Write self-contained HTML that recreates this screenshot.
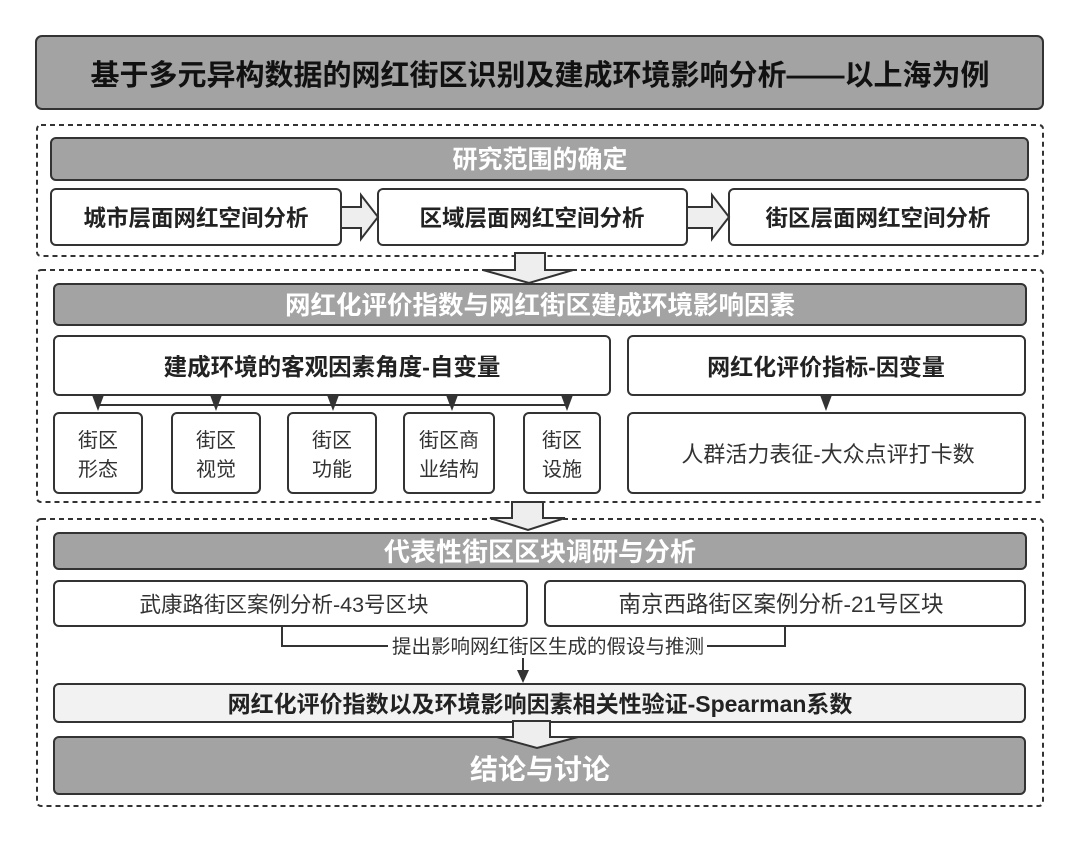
<!DOCTYPE html>
<html><head><meta charset="utf-8"><style>
html,body{margin:0;padding:0;background:#fff;}
svg text{font-family:"Liberation Sans","Noto Sans CJK SC",sans-serif;}
</style></head><body>
<svg width="1080" height="842" viewBox="0 0 1080 842" xmlns="http://www.w3.org/2000/svg">
<g stroke="#333" stroke-width="2">
<rect x="36" y="36" width="1007" height="73" rx="6" fill="#a3a3a3"/>
</g>
<text x="540" y="85" font-size="29" font-weight="bold" text-anchor="middle" fill="#111">基于多元异构数据的网红街区识别及建成环境影响分析——以上海为例</text>

<g fill="none" stroke="#333" stroke-width="2" stroke-dasharray="5,4">
<rect x="37" y="125" width="1006" height="131" rx="4"/>
<rect x="37" y="270" width="1006" height="232" rx="4"/>
<rect x="37" y="519" width="1006" height="287" rx="4"/>
</g>

<g stroke="#333" stroke-width="2">
<rect x="51" y="138" width="977" height="42" rx="5" fill="#a3a3a3"/>
<rect x="51" y="189" width="290" height="56" rx="5" fill="#fff"/>
<rect x="378" y="189" width="309" height="56" rx="5" fill="#fff"/>
<rect x="729" y="189" width="299" height="56" rx="5" fill="#fff"/>
<polygon points="341,207 361,207 361,195 378,217 361,239 361,228 341,228" fill="#eee"/>
<polygon points="687,207 712,207 712,195 729,217 712,239 712,228 687,228" fill="#eee"/>
<polygon points="515,253 545,253 545,270 573,270 529,283 483,270 515,270" fill="#eee"/>

<rect x="54" y="284" width="972" height="41" rx="5" fill="#a3a3a3"/>
<rect x="54" y="336" width="556" height="59" rx="5" fill="#fff"/>
<rect x="628" y="336" width="397" height="59" rx="5" fill="#fff"/>
<rect x="54" y="413" width="88" height="80" rx="5" fill="#fff"/>
<rect x="172" y="413" width="88" height="80" rx="5" fill="#fff"/>
<rect x="288" y="413" width="88" height="80" rx="5" fill="#fff"/>
<rect x="404" y="413" width="90" height="80" rx="5" fill="#fff"/>
<rect x="524" y="413" width="76" height="80" rx="5" fill="#fff"/>
<rect x="628" y="413" width="397" height="80" rx="5" fill="#fff"/>
<line x1="98" y1="405" x2="567" y2="405" fill="none"/>
<polygon points="512,502 543,502 543,518 565,518 528,530 490,518 512,518" fill="#eee"/>

<rect x="54" y="533" width="972" height="36" rx="5" fill="#a3a3a3"/>
<rect x="54" y="581" width="473" height="45" rx="5" fill="#fff"/>
<rect x="545" y="581" width="480" height="45" rx="5" fill="#fff"/>
<polyline points="282,626 282,646 388,646" fill="none"/>
<polyline points="707,646 785,646 785,626" fill="none"/>
<line x1="523" y1="658" x2="523" y2="672" fill="none"/>
<rect x="54" y="684" width="971" height="38" rx="5" fill="#f2f2f2"/>
<rect x="54" y="737" width="971" height="57" rx="5" fill="#a3a3a3"/>
<polygon points="513,721 550,721 550,737 578,737 537,748 497,737 513,737" fill="#eee"/>
</g>
<g fill="#333">
<polygon points="92,395 104,395 98,411"/>
<polygon points="210,395 222,395 216,411"/>
<polygon points="327,395 339,395 333,411"/>
<polygon points="446,395 458,395 452,411"/>
<polygon points="561,395 573,395 567,411"/>
<polygon points="820,395 832,395 826,411"/>
<polygon points="517,670 529,670 523,683"/>
</g>

<g font-weight="bold" text-anchor="middle">
<text x="540" y="168" font-size="25" fill="#fff">研究范围的确定</text>
<text x="196" y="226" font-size="22.5" fill="#222">城市层面网红空间分析</text>
<text x="532" y="226" font-size="22.5" fill="#222">区域层面网红空间分析</text>
<text x="878" y="226" font-size="22.5" fill="#222">街区层面网红空间分析</text>
<text x="540" y="314" font-size="25.5" fill="#fff">网红化评价指数与网红街区建成环境影响因素</text>
<text x="332" y="375" font-size="23.5" fill="#222">建成环境的客观因素角度-自变量</text>
<text x="826" y="375" font-size="23" fill="#222">网红化评价指标-因变量</text>
<text x="540" y="561" font-size="26" fill="#fff">代表性街区区块调研与分析</text>
<text x="540" y="712" font-size="23" fill="#222">网红化评价指数以及环境影响因素相关性验证-Spearman系数</text>
<text x="540" y="779" font-size="28" fill="#fff">结论与讨论</text>
</g>
<g text-anchor="middle" font-size="20" fill="#333">
<text x="98" y="447">街区</text><text x="98" y="476">形态</text>
<text x="216" y="447">街区</text><text x="216" y="476">视觉</text>
<text x="332" y="447">街区</text><text x="332" y="476">功能</text>
<text x="449" y="447">街区商</text><text x="449" y="476">业结构</text>
<text x="562" y="447">街区</text><text x="562" y="476">设施</text>
<text x="828" y="462" font-size="22">人群活力表征-大众点评打卡数</text>
<text x="284" y="612" font-size="21.5">武康路街区案例分析-43号区块</text>
<text x="781" y="612" font-size="22.5">南京西路街区案例分析-21号区块</text>
<text x="548" y="653" font-size="19.5">提出影响网红街区生成的假设与推测</text>
</g>
</svg>
</body></html>
